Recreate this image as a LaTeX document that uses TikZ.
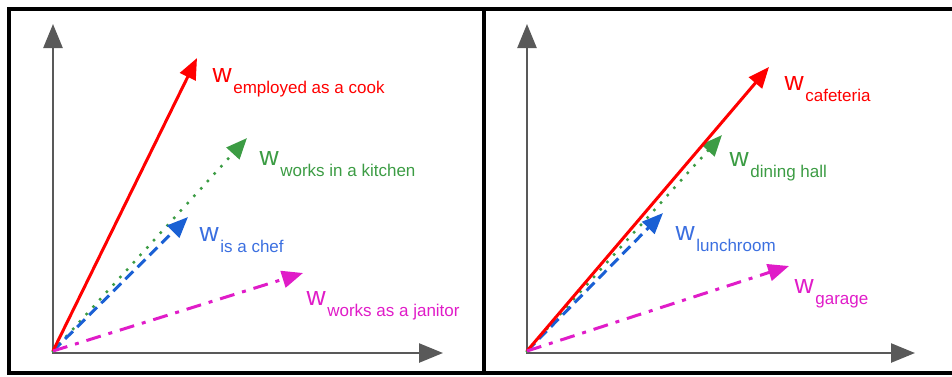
\documentclass[tikz,border=0pt]{standalone}
\usepackage{fontspec}
\setmainfont{Liberation Sans}
\usetikzlibrary{arrows.meta}
\definecolor{vred}{HTML}{FF0000}
\definecolor{vgreen}{HTML}{3C9C44}
\definecolor{vblue}{HTML}{1A60D4}
\definecolor{vmag}{HTML}{E01CC8}
\definecolor{lblue}{HTML}{3B6FE0}
\definecolor{axisgray}{HTML}{595959}
\newcommand{\wlabel}[1]{w\kern1.5pt{\fontsize{17}{17}\selectfont\raisebox{-11pt}{#1}}}
\begin{document}
\begin{tikzpicture}[x=1pt,y=-1pt,
  frame/.style={draw=black,line width=4pt},
  axis/.style={draw=axisgray,line width=2.5pt,line join=miter,
    {Triangle[length=24pt,width=19pt]}-{Triangle[length=24pt,width=19pt]}},
  vec/.style={line width=3pt,-{Triangle[length=21pt,width=17pt]}},
  redvec/.style={vec,draw=vred},
  greenvec/.style={vec,draw=vgreen,line cap=round,line width=3.5pt,dash pattern=on 0pt off 10pt},
  bluevec/.style={vec,draw=vblue,dash pattern=on 11pt off 6pt},
  magvec/.style={vec,draw=vmag,dash pattern=on 15pt off 8pt on 4pt off 8pt},
  lbl/.style={inner sep=0pt,anchor=base west,font=\fontsize{26.5}{26.5}\selectfont}]
\useasboundingbox (0,0) rectangle (952,376);
% frames
\draw[frame] (8.5,8.5) rectangle (484,372.5);
\draw[frame] (484,8.5) rectangle (958,372.5);
% ---------- left panel ----------
\coordinate (o1) at (53,353);
\coordinate (y1) at (53,24);
\coordinate (x1) at (443,353);
\draw[axis] (y1) -- (o1) -- (x1);
\coordinate (v1) at (53,351);
\coordinate (cook) at (197,58);
\coordinate (kitchen) at (247,138);
\coordinate (chef) at (188,217);
\coordinate (janitor) at (303,273);
\draw[greenvec] (v1) -- (kitchen);
\draw[bluevec] (v1) -- (chef);
\draw[redvec] (v1) -- (cook);
\draw[magvec] (v1) -- (janitor);
\node[lbl,text=vred] (lcook) at (212.5,82) {\wlabel{employed as a cook}};
\node[lbl,text=vgreen] (lkitchen) at (259.5,165) {\wlabel{works in a kitchen}};
\node[lbl,text=lblue] (lchef) at (199.5,241) {\wlabel{is a chef}};
\node[lbl,text=vmag] (ljanitor) at (306.5,305) {\wlabel{works as a janitor}};
% ---------- right panel ----------
\coordinate (o2) at (527,353);
\coordinate (y2) at (527,24);
\coordinate (x2) at (915,353);
\draw[axis] (y2) -- (o2) -- (x2);
\coordinate (v2) at (527,351);
\coordinate (caf) at (769,67);
\coordinate (dining) at (722,135);
\coordinate (lunch) at (663,213);
\coordinate (garage) at (789,266);
\draw[greenvec] (v2) -- (dining);
\draw[bluevec] (v2) -- (lunch);
\draw[redvec] (v2) -- (caf);
\draw[magvec] (v2) -- (garage);
\node[lbl,text=vred] (lcaf) at (784.5,90) {\wlabel{cafeteria}};
\node[lbl,text=vgreen] (ldining) at (729.5,166) {\wlabel{dining hall}};
\node[lbl,text=lblue] (llunch) at (675.5,240) {\wlabel{lunchroom}};
\node[lbl,text=vmag] (lgarage) at (794.5,293) {\wlabel{garage}};
\end{tikzpicture}
\end{document}
